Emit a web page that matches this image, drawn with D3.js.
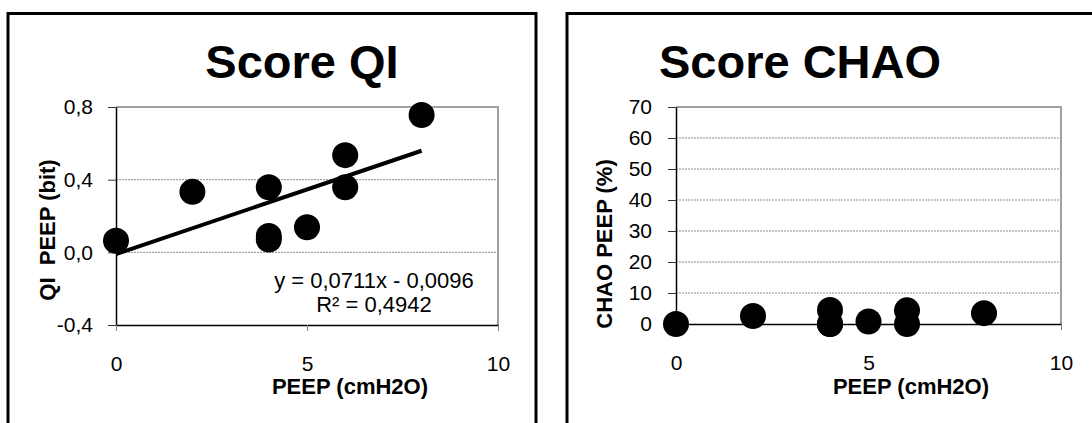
<!DOCTYPE html>
<html>
<head>
<meta charset="utf-8">
<script src="https://cdn.jsdelivr.net/npm/d3@7/dist/d3.min.js"></script>
<style>
  html, body { margin: 0; padding: 0; background: #fff; }
  svg { display: block; font-family: "Liberation Sans", Arial, sans-serif; }
</style>
</head>
<body>
<svg id="chart" width="1092" height="423"></svg>
<script>
// ---- data ----
const xTicks = [0, 5, 10];
const xDomain = [0, 10];

const qiTitle = "Score QI";
const qiYLabel = "QI  PEEP (bit)";
const qiTicks = [-0.4, 0, 0.4, 0.8];
const qiDomain = [-0.4, 0.8];
const qiPeep   = [0, 2, 4, 4, 4, 5, 6, 6, 8];
const qiValues = [0.064, 0.333, 0.358, 0.09, 0.07, 0.138, 0.535, 0.358, 0.756];
const qiTrend = { slope: 0.0711, intercept: -0.0096, from: 0, to: 8 };
const qiEquation = ["y = 0,0711x - 0,0096", "R² = 0,4942"];

const chaoTitle = "Score CHAO";
const chaoYLabel = "CHAO PEEP (%)";
const chaoTicks = [0, 10, 20, 30, 40, 50, 60, 70];
const chaoDomain = [0, 70];
const chaoPeep   = [0, 2, 4, 4, 4, 5, 6, 6, 8];
const chaoValues = [0, 2.6, 4.5, 0, 0, 0.8, 4.4, 0, 3.5];

const xLabel = "PEEP (cmH2O)";

// ---- drawing ----
const svg = d3.select("#chart");

function frame(x0, x1) {
  svg.append("path")
    .attr("d", `M${x0},440 V13.5 H${x1} V440`)
    .attr("fill", "none").attr("stroke", "#000").attr("stroke-width", 3);
}
frame(8, 536);
frame(567, 1110);

function panel(o) {
  const x = d3.scaleLinear().domain(xDomain).range([o.left, o.right]);
  const y = d3.scaleLinear().domain(o.yDomain).range([o.bottom, o.top]);
  const g = svg.append("g");

  // gridlines (dotted)
  g.append("g").selectAll("line")
    .data(o.grid).join("line")
    .attr("x1", o.left).attr("x2", o.right)
    .attr("y1", d => y(d)).attr("y2", d => y(d))
    .attr("stroke", "#8a8a8a").attr("stroke-width", 1)
    .attr("stroke-dasharray", "2,1");

  // plot area border (top / right, gray)
  g.append("path")
    .attr("d", `M${o.left},${o.top} H${o.right} V${o.bottom}`)
    .attr("fill", "none").attr("stroke", "#a0a0a0").attr("stroke-width", 2);

  // y axis
  const yAxis = d3.axisLeft(y).tickValues(o.yTicks).tickSizeInner(8).tickSizeOuter(0)
    .tickPadding(o.yPad).tickFormat(o.fmt);
  const ya = g.append("g").attr("transform", `translate(${o.left},0)`).call(yAxis);
  ya.select(".domain").attr("stroke", "#000").attr("stroke-width", 1.5);
  ya.selectAll(".tick line").attr("stroke", "#333").attr("stroke-width", 1);
  ya.selectAll(".tick text").attr("font-size", 21).attr("fill", "#000")
    .attr("font-family", "Liberation Sans, Arial, sans-serif");

  // x axis
  const xAxis = d3.axisBottom(x).tickValues(xTicks).tickSizeInner(6).tickSizeOuter(0)
    .tickPadding(25.5).tickFormat(d3.format("d"));
  const xa = g.append("g").attr("transform", `translate(0,${o.bottom})`).call(xAxis);
  xa.select(".domain").attr("stroke", "#000").attr("stroke-width", 1.5);
  xa.selectAll(".tick line").attr("stroke", "#808080").attr("stroke-width", 1);
  xa.selectAll(".tick text").attr("font-size", 21).attr("fill", "#000")
    .attr("font-family", "Liberation Sans, Arial, sans-serif");

  // points
  g.append("g").selectAll("circle")
    .data(o.xs.map((d, i) => [d, o.ys[i]])).join("circle")
    .attr("cx", d => x(d[0])).attr("cy", d => y(d[1]))
    .attr("r", 13).attr("fill", "#000");

  // trend line
  if (o.trend) {
    const t = o.trend;
    g.append("line")
      .attr("x1", x(t.from)).attr("y1", y(t.slope * t.from + t.intercept))
      .attr("x2", x(t.to)).attr("y2", y(t.slope * t.to + t.intercept))
      .attr("stroke", "#000").attr("stroke-width", 4);
    g.append("g").selectAll("text").data(o.equation).join("text")
      .attr("x", o.eqX).attr("y", (d, i) => o.eqY + i * 24)
      .attr("text-anchor", "middle").attr("font-size", 22).text(d => d);
  }

  // title
  g.append("text").attr("x", o.titleX).attr("y", 78)
    .attr("text-anchor", "middle").attr("font-size", 47).attr("font-weight", "bold")
    .text(o.title);

  // axis titles
  g.append("text").attr("x", o.xLabelX).attr("y", 394)
    .attr("text-anchor", "middle").attr("font-size", 22).attr("font-weight", "bold")
    .text(xLabel);
  g.append("text")
    .attr("transform", `translate(${o.yLabelX},${o.yLabelY}) rotate(-90)`)
    .attr("text-anchor", "middle").attr("font-size", 22).attr("font-weight", "bold")
    .attr("dy", "0.35em").style("white-space", "pre")
    .text(o.yLabel);
}

const commaFmt = v => v.toFixed(1).replace(".", ",");

panel({
  left: 116, right: 498, top: 107, bottom: 325,
  yDomain: qiDomain, yTicks: qiTicks, grid: [0, 0.4], fmt: commaFmt, yPad: 15,
  xs: qiPeep, ys: qiValues, trend: qiTrend, equation: qiEquation, eqX: 374, eqY: 288,
  title: qiTitle, titleX: 302, xLabelX: 350, yLabel: qiYLabel, yLabelX: 47, yLabelY: 230
});

panel({
  left: 676, right: 1061, top: 107, bottom: 324,
  yDomain: chaoDomain, yTicks: chaoTicks, grid: [10, 20, 30, 40, 50, 60], fmt: d3.format("d"), yPad: 16,
  xs: chaoPeep, ys: chaoValues, trend: null,
  title: chaoTitle, titleX: 800, xLabelX: 911, yLabel: chaoYLabel, yLabelX: 604, yLabelY: 244
});
</script>
</body>
</html>
